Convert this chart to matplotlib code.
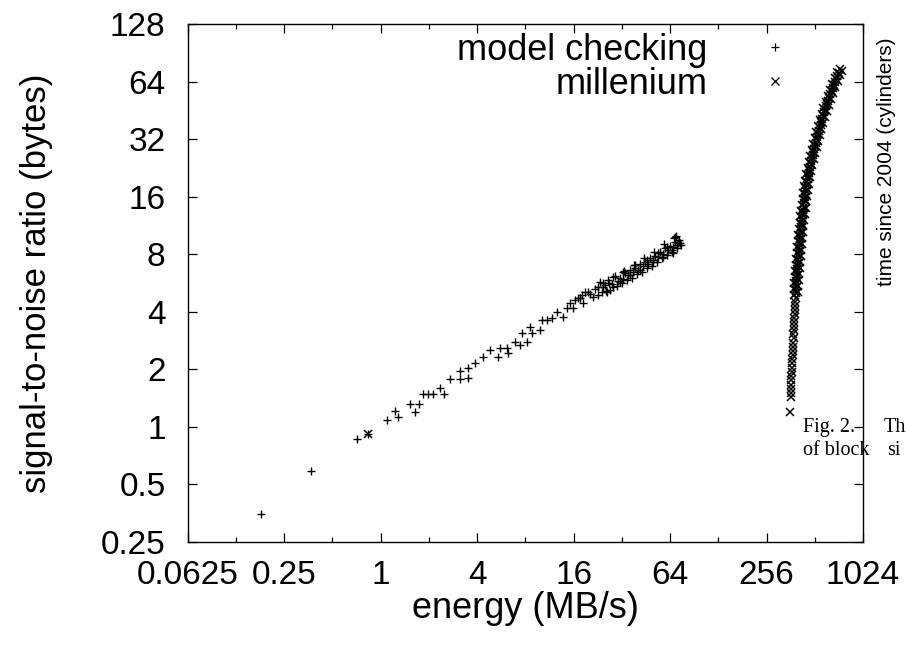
import matplotlib
matplotlib.use("Agg")
import matplotlib.pyplot as plt
from matplotlib.ticker import NullFormatter

plt.rcParams['font.family'] = ['Liberation Sans', 'DejaVu Sans']

# --- data ---
series_names = ['model checking', 'millenium']

mc_x = [0.18, 0.37, 0.71, 0.83, 1.09, 1.23, 1.28, 1.52, 1.64, 1.73, 1.84, 1.97, 2.12,
        2.34, 2.48, 2.70, 3.12, 3.12, 3.50, 3.50, 3.87, 4.34, 4.80, 5.39, 5.54, 6.13,
        6.22, 6.87, 7.38, 7.60, 8.16, 8.52, 8.77, 9.84, 10.1, 10.9, 11.7, 12.6, 13.7,
        14.5, 15.8, 17.0, 18.0, 18.2, 19.6, 21.1, 22.6, 24.3, 25.7, 28.1, 31.0, 32.4,
        35.8, 38.5, 41.3, 45.7, 49.8, 53.5, 57.5, 60.9, 65.4, 68.2, 70.3, 73.4, 66.4,
        23.4, 24.1, 25.1, 26.2, 27.0, 27.8, 29.0, 29.9, 31.2, 32.1, 33.5, 34.5, 36.0,
        37.0, 38.7, 39.8, 41.5, 42.8, 44.6, 45.9, 48.0, 49.4, 51.5, 53.0, 55.4, 57.0,
        59.5, 61.2, 63.9, 65.8, 68.7, 70.7, 72.8, 74.9, 69.7,
        15.2, 16.3, 17.6, 18.9, 20.3, 21.8, 22.7, 24.4, 25.5, 26.6, 28.2, 30.3, 32.6,
        35.0, 37.6, 40.4, 43.4, 46.6, 50.1, 53.8, 57.8, 62.1, 66.8, 71.7, 67.7, 58.7,
        50.8, 44.0, 38.1, 33.0]
mc_y = [0.35, 0.59, 0.86, 0.92, 1.08, 1.21, 1.13, 1.32, 1.19, 1.31, 1.49, 1.49, 1.49,
        1.60, 1.49, 1.77, 1.79, 1.97, 1.81, 2.04, 2.15, 2.31, 2.51, 2.31, 2.60, 2.60,
        2.42, 2.77, 2.67, 3.08, 2.77, 3.32, 3.08, 3.20, 3.61, 3.61, 3.70, 3.98, 3.74,
        4.17, 4.17, 4.71, 4.88, 4.43, 5.06, 4.77, 5.38, 5.65, 5.06, 6.07, 5.72, 6.45,
        6.22, 7.02, 6.61, 7.46, 7.28, 8.12, 7.73, 8.73, 8.41, 9.85, 8.94, 9.16, 8.12,
        5.73, 5.08, 5.52, 5.87, 5.20, 5.59, 6.16, 5.46, 6.01, 5.66, 6.38, 5.87, 6.62,
        6.01, 6.78, 6.31, 7.11, 6.46, 7.29, 6.78, 7.65, 6.94, 7.83, 7.29, 8.22, 7.65,
        8.63, 7.93, 8.84, 8.22, 9.27, 8.63, 9.50, 8.94, 9.97,
        4.45, 4.61, 4.72, 5.08, 4.96, 5.26, 4.90, 5.39, 5.14, 5.66, 5.39, 5.80, 5.94,
        6.23, 6.46, 6.62, 6.94, 7.11, 7.46, 7.74, 8.02, 8.42, 8.73, 9.16, 9.73, 9.05,
        8.22, 7.65, 7.03, 6.54]

ml_x = [0.83, 359, 362, 362, 364, 363, 366, 365, 368, 367, 370, 369, 373, 372, 375,
        374, 377, 376, 379, 378, 381, 380, 384, 383, 386, 385, 389,
        377, 402, 379, 404, 381, 406, 383, 409, 386, 412, 389, 415, 392, 418, 395,
        421, 398, 424, 402, 427, 404, 432, 408, 435, 411, 439, 415, 443, 419, 448,
        424, 453, 430, 458, 435, 465, 440, 470, 446, 478, 453, 485, 461, 493, 469,
        504, 479, 514, 490, 525, 501, 538, 512, 550, 524, 562, 536, 577, 550, 592,
        566, 608, 580, 625, 598, 646, 617, 665, 637, 687, 659, 712, 682, 736, 705,
        735, 760]
ml_y = [0.92, 1.20, 1.43, 1.50, 1.58, 1.66, 1.75, 1.84, 1.94, 2.04, 2.15, 2.26, 2.38,
        2.50, 2.63, 2.76, 2.90, 3.05, 3.20, 3.36, 3.53, 3.71, 3.90, 4.10, 4.30, 4.50,
        4.70,
        4.90, 5.08, 5.27, 5.46, 5.66, 5.87, 6.09, 6.31, 6.55, 6.79, 7.04, 7.30, 7.57,
        7.85, 8.14, 8.44, 8.75, 9.08, 9.41, 9.76, 10.1, 10.5, 10.9, 11.3, 11.7, 12.1,
        12.6, 13.0, 13.5, 14.0, 14.5, 15.1, 15.6, 16.2, 16.8, 17.4, 18.1, 18.7, 19.4,
        20.2, 20.9, 21.7, 22.5, 23.3, 24.2, 25.1, 26.0, 27.0, 28.0, 29.0, 30.1, 31.2,
        32.4, 33.6, 34.8, 36.1, 37.4, 38.8, 40.2, 41.7, 43.3, 44.9, 46.5, 48.3, 50.0,
        51.9, 53.8, 55.8, 57.9, 60.0, 62.2, 64.5, 66.9, 69.4, 72.0,
        74.5, 72.5]
# middle of the dense millenium band
ml_band_x = [389.5, 390.5, 391.5, 392.5, 393.5, 394.5, 396, 397.5, 399, 400.5,
             402, 403.5, 405, 406.5, 408, 409.5, 411, 413, 414.5, 416,
             418, 420, 421.5, 423, 425, 427, 429, 431, 433.5, 436,
             438.5, 441.5, 444, 446.5, 449.5, 452.5, 455, 458, 462, 465.5,
             469, 473, 477, 481.5, 486.5, 491.5, 496.5, 502, 507.5, 513,
             519, 525, 531, 537, 543, 549.5, 556.5, 563.5, 571, 579,
             586.5, 594, 602.5, 611.5, 621.5, 631.5, 641, 651.5, 662, 673,
             685, 697, 709, 721]
ml_band_y = [4.99, 5.17, 5.36, 5.56, 5.76, 5.98, 6.20, 6.43, 6.67, 6.91,
             7.17, 7.43, 7.71, 7.99, 8.29, 8.59, 8.91, 9.24, 9.58, 9.93,
             10.3, 10.7, 11.1, 11.5, 11.9, 12.3, 12.8, 13.2, 13.7, 14.2,
             14.8, 15.3, 15.9, 16.5, 17.1, 17.7, 18.4, 19.0, 19.8, 20.5,
             21.3, 22.1, 22.9, 23.7, 24.6, 25.5, 26.5, 27.5, 28.5, 29.5,
             30.6, 31.8, 33.0, 34.2, 35.4, 36.7, 38.1, 39.5, 40.9, 42.5,
             44.1, 45.7, 47.4, 49.1, 50.9, 52.8, 54.8, 56.8, 58.9, 61.1,
             63.3, 65.7, 68.1, 70.7]

x_ticks = [0.0625, 0.25, 1, 4, 16, 64, 256, 1024]
x_tick_labels = ['0.0625', '0.25', '1', '4', '16', '64', '256', '1024']
x_minor = [0.125, 0.5, 2, 8, 32, 128, 512]
y_ticks = [0.25, 0.5, 1, 2, 4, 8, 16, 32, 64, 128]
y_tick_labels = ['0.25', '0.5', '1', '2', '4', '8', '16', '32', '64', '128']

fig = plt.figure(figsize=(9.06, 6.5), dpi=100)
ax = fig.add_axes([0.2072, 0.1662, 0.7454, 0.7969])

ax.plot(mc_x, mc_y, linestyle='none', marker='+', ms=6, mew=1.0, color='black')
ax.plot(ml_x + ml_band_x, ml_y + ml_band_y, linestyle='none', marker='x', ms=5.6,
        mew=1.1, color='black')

ax.set_xscale('log', base=2)
ax.set_yscale('log', base=2)
ax.set_xlim(0.0625, 1024)
ax.set_ylim(0.25, 128)

ax.set_xticks(x_ticks, labels=x_tick_labels)
ax.set_xticks(x_minor, minor=True)
ax.xaxis.set_minor_formatter(NullFormatter())
ax.set_yticks(y_ticks, labels=y_tick_labels)
ax.set_yticks([], minor=True)

ax.tick_params(which='both', direction='in', top=True, right=True, width=0.9)
ax.tick_params(which='major', length=6.5, labelsize=24)
ax.tick_params(axis='x', which='major', pad=13)
ax.tick_params(axis='y', which='major', pad=16)
ax.tick_params(which='minor', length=3.3)
for sp in ax.spines.values():
    sp.set_linewidth(1.0)

ax.set_xlabel('energy (MB/s)', fontsize=26)
ax.set_ylabel('signal-to-noise ratio (bytes)', fontsize=25)
ax.xaxis.set_label_coords(0.5, -0.128)
ax.xaxis.label.set_va('center')
ax.yaxis.set_label_coords(-0.2232, 0.5)
ax.yaxis.label.set_va('center')

# key, drawn gnuplot style: text right-aligned, sample to the right
ax.text(0.7692, 0.9305, series_names[0], transform=ax.transAxes, ha='right',
        va='baseline', fontsize=26)
ax.text(0.7692, 0.8649, series_names[1], transform=ax.transAxes, ha='right',
        va='baseline', fontsize=26)
ax.plot([0.8699], [0.9556], transform=ax.transAxes, marker='+', ms=6, mew=0.9,
        color='black', clip_on=False)
ax.plot([0.8699], [0.8900], transform=ax.transAxes, marker='x', ms=5.2, mew=0.9,
        color='black', clip_on=False)

# second y label on the right
fig.text(887 / 906, 1 - 162 / 650, 'time since 2004 (cylinders)', rotation=90,
         ha='center', va='center', fontsize=15)

# caption of the paper page bleeding into the crop
fig.text(803 / 906, 1 - 432 / 650, 'Fig. 2.', family='Liberation Serif',
         fontsize=14.5, va='baseline')
fig.text(884 / 906, 1 - 432 / 650, 'Th', family='Liberation Serif',
         fontsize=14.5, va='baseline')
fig.text(803 / 906, 1 - 455 / 650, 'of block', family='Liberation Serif',
         fontsize=14.5, va='baseline')
fig.text(887 / 906, 1 - 455 / 650, 'si', family='Liberation Serif',
         fontsize=14.5, va='baseline')

fig.savefig('out.png', dpi=100)
